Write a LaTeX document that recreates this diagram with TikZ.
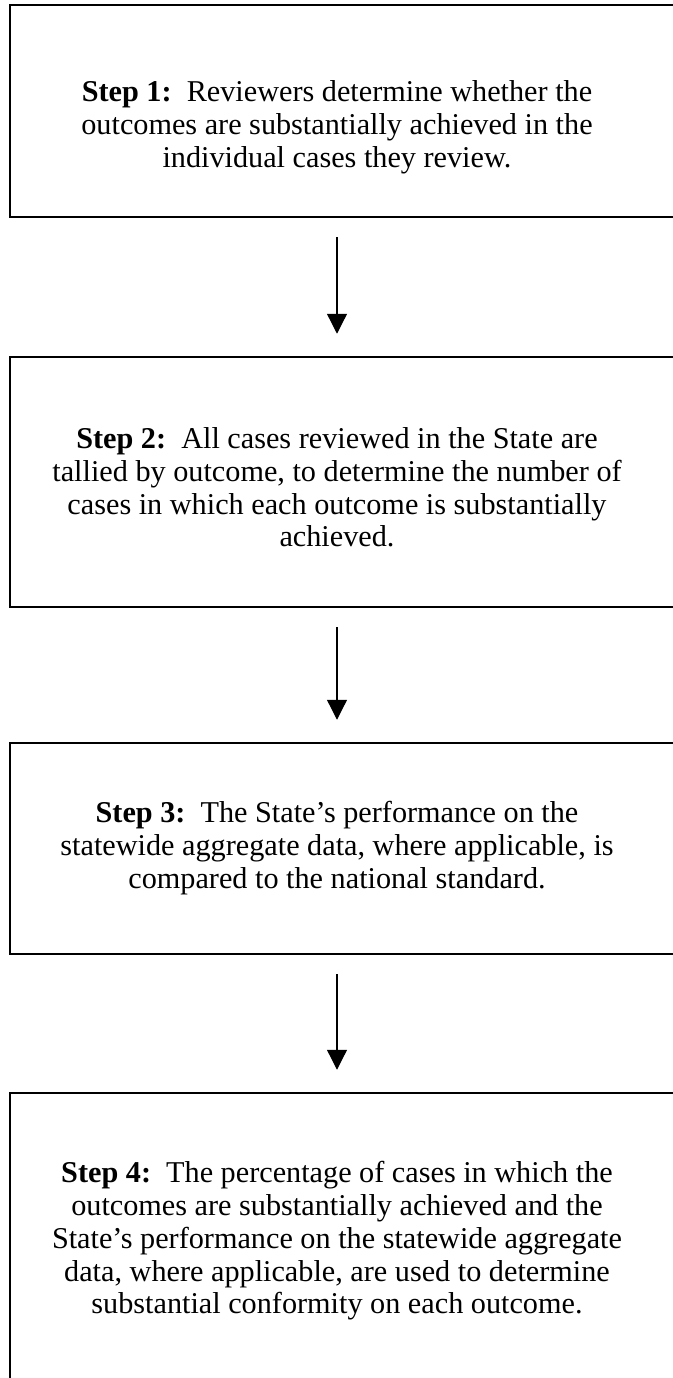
\documentclass[tikz,border=0pt]{standalone}
\usepackage{fontspec}
\setmainfont{Liberation Serif}
\usetikzlibrary{arrows.meta}
\begin{document}
\begin{tikzpicture}[x=0.43pt,y=-0.43pt,
  stepbox/.style={draw, line width=0.9pt, rectangle, anchor=north west, outer sep=0pt, inner sep=0pt, minimum width={680*0.43pt}},
  steptext/.style={anchor=north, align=center, inner sep=0pt, font=\fontsize{13pt}{14.1pt}\selectfont},
  arr/.style={line width=0.55pt, -{Triangle[length=8.6pt,width=8.6pt]}, shorten <=8.6pt, shorten >=10pt}]
\useasboundingbox (0,0) rectangle (673,1378);
\clip (0,0) rectangle (673,1378);
\coordinate (ax) at (337,0);
\node[stepbox, minimum height={212*0.43pt}] (b1) at (10,5) {};
\node[stepbox, minimum height={250*0.43pt}] (b2) at (10,357) {};
\node[stepbox, minimum height={211*0.43pt}] (b3) at (10,743) {};
\node[stepbox, minimum height={320*0.43pt}] (b4) at (10,1093) {};
\node[steptext] (t1) at (337,80) {\textbf{Step 1:}\ \ Reviewers determine whether the\\ outcomes are substantially achieved in the\\ individual cases they review.};
\node[steptext] (t2) at (337,427) {\textbf{Step 2:}\ \ All cases reviewed in the State are\\ tallied by outcome, to determine the number of\\ cases in which each outcome is substantially\\ achieved.};
\node[steptext] (t3) at (337,801) {\textbf{Step 3:}\ \ The State’s performance on the\\ statewide aggregate data, where applicable, is\\ compared to the national standard.};
\node[steptext] (t4) at (337,1161) {\textbf{Step 4:}\ \ The percentage of cases in which the\\ outcomes are substantially achieved and the\\ State’s performance on the statewide aggregate\\ data, where applicable, are used to determine\\ substantial conformity on each outcome.};
\draw[arr] (b1.south -| ax) -- (b2.north -| ax);
\draw[arr] (b2.south -| ax) -- (b3.north -| ax);
\draw[arr] (b3.south -| ax) -- (b4.north -| ax);
\end{tikzpicture}
\end{document}
